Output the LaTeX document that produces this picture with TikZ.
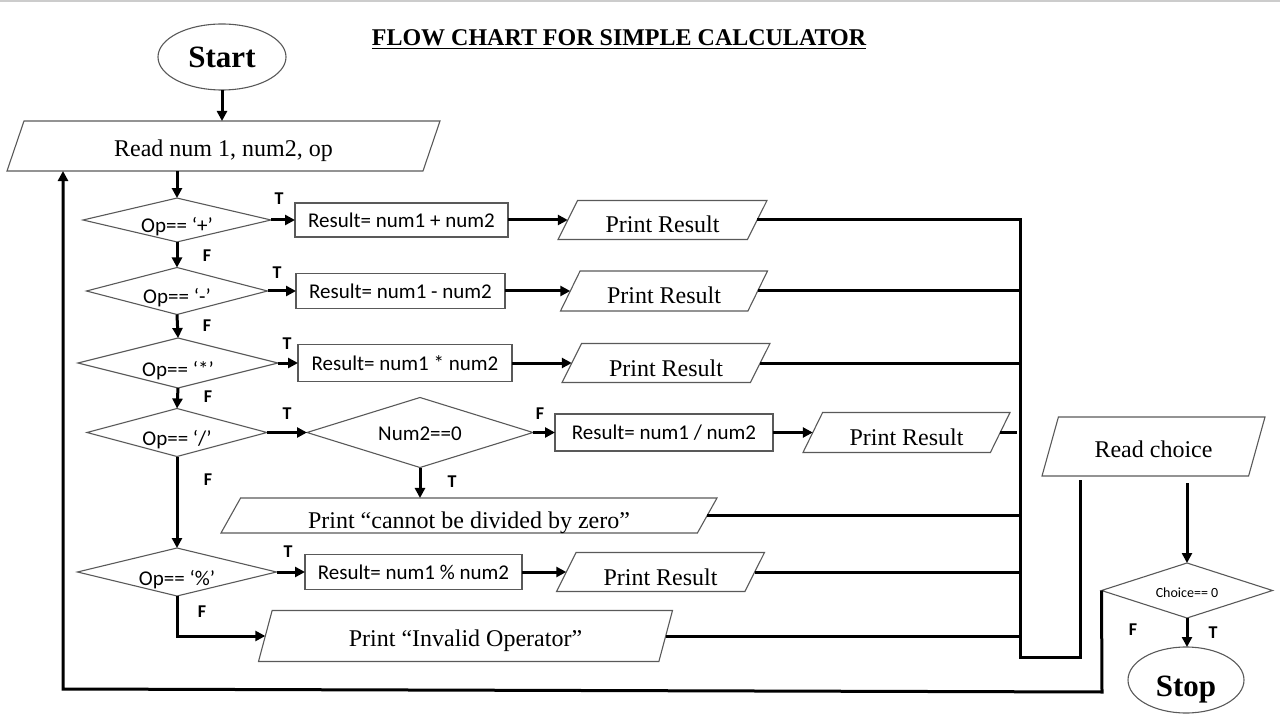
\documentclass[tikz,border=0pt]{standalone}
\usepackage{fontspec}
\setmainfont{Liberation Serif}
\newfontfamily\calib{Carlito}
\usetikzlibrary{shapes.geometric,arrows.meta,calc}
\begin{document}
\begin{tikzpicture}[x=1pt,y=-1pt,
  outl/.style={draw=black!65, line width=1.1pt},
  conn/.style={line width=3pt, black},
  arr/.style={conn, -{Triangle[length=10pt,width=10pt]}},
  para/.style={trapezium, trapezium left angle=#1, trapezium right angle=180-#1,
    trapezium stretches body, outl, inner sep=0pt, outer sep=0pt,
    font=\fontsize{24}{28}\selectfont},
  para/.default=53,
  lowtxt/.style={text height=26pt, text depth=0pt},
  midtxt/.style={text height=21pt, text depth=0pt},
  dia/.style={diamond, outl, inner sep=0pt, outer sep=0pt, shape aspect=4,
    font=\calib\fontsize{21}{24}\selectfont, text height=26pt, text depth=0pt},
  procbox/.style={rectangle, outl, inner sep=0pt, outer sep=0pt,
    font=\calib\fontsize{21}{24}\selectfont},
  term/.style={ellipse, outl, inner sep=0pt, outer sep=0pt,
    font=\bfseries\fontsize{31}{34}\selectfont},
  lab/.style={inner sep=0pt, font=\calib\bfseries\fontsize{18}{20}\selectfont}
]
\useasboundingbox (0,0) rectangle (1280,719);
\draw[gray!40, line width=2pt] (0,1) -- (1280,1);

% title
\node[anchor=base, inner sep=0pt] (title) at (619,46)
  {\fontsize{24}{28}\selectfont\bfseries\underline{FLOW CHART FOR SIMPLE CALCULATOR}};

% terminals
\node[term, minimum width=128pt, minimum height=66pt] (start) at (222,57) {Start};
\node[term, minimum width=116pt, minimum height=66pt, text height=32pt, text depth=0pt] (stop) at (1186,680) {Stop};

% inputs
\node[para=51, midtxt, minimum width=433pt, minimum height=50pt] (read) at (223.5,146) {Read num 1, num2, op};
\node[para=52, midtxt, minimum width=223pt, minimum height=59pt] (rc) at (1153.5,446.5) {Read choice};

% decisions
\node[dia, minimum width=188pt, minimum height=43pt] (d1) at (177,220) {Op== ‘+’};
\node[dia, minimum width=181pt, minimum height=47pt] (d2) at (177,291) {Op== ‘-’};
\node[dia, minimum width=200pt, minimum height=50pt] (d3) at (178,363) {Op== ‘*’};
\node[dia, minimum width=180pt, minimum height=48pt] (d4) at (177,432.5) {Op== ‘/’};
\node[dia, minimum width=199pt, minimum height=48pt] (d5) at (177,572) {Op== ‘\%’};
\node[dia, shape aspect=3.2, minimum width=226pt, minimum height=70pt, text height=16pt] (n0) at (420,432.5) {Num2==0};
\node[dia, shape aspect=3, minimum width=171pt, minimum height=55pt,
  font=\calib\fontsize{14}{16}\selectfont, text height=13pt] (ch) at (1187,590.5) {Choice== 0};

% process boxes
\node[procbox, minimum width=213pt, minimum height=34pt] (b1) at (401.5,220) {Result= num1 + num2};
\node[procbox, minimum width=209pt, minimum height=35pt] (b2) at (400.5,291) {Result= num1 - num2};
\node[procbox, minimum width=214pt, minimum height=37pt] (b3) at (405,363) {Result= num1 * num2};
\node[procbox, minimum width=218pt, minimum height=37pt] (b4) at (664,432.5) {Result= num1 / num2};
\node[procbox, minimum width=217pt, minimum height=35pt] (b5) at (413.5,572) {Result= num1 \% num2};

% outputs
\node[para, lowtxt, minimum width=209pt, minimum height=39pt] (p1) at (662.5,220) {Print Result};
\node[para, lowtxt, minimum width=207pt, minimum height=40pt] (p2) at (664,291) {Print Result};
\node[para, lowtxt, minimum width=208pt, minimum height=39pt] (p3) at (666,363) {Print Result};
\node[para, lowtxt, minimum width=207pt, minimum height=40pt] (p4) at (906.5,432.5) {Print Result};
\node[para, lowtxt, minimum width=208pt, minimum height=39pt] (p5) at (660.5,572) {Print Result};
\node[para, lowtxt, minimum width=496pt, minimum height=35pt] (zero) at (469,515.5) {Print “cannot be divided by zero”};
\node[para=57, midtxt, minimum width=414pt, minimum height=51pt] (inv) at (465.5,636) {Print “Invalid Operator”};

% bus coordinates
\coordinate (bb) at (1020,657);
\coordinate (bc) at (1080,657);
\coordinate (bd) at (1080,480);
\coordinate (l1) at (1102,692);
\coordinate (l2) at (63,689);

% main flow
\draw[arr] (start.south) -- (start.south |- read.north);
\draw[arr] (d1.north |- read.south) -- (d1.north);
\draw[arr] (d1.south) -- (d2.north);
\draw[arr] (d2.south) -- (d3.north);
\draw[arr] (d3.south) -- (d4.north);
\draw[arr] (d4.south) -- (d5.north);
\draw[arr] (d5.south) |- (inv.left side);

\draw[arr] (d1.east) -- (b1.west);
\draw[arr] (d2.east) -- (b2.west);
\draw[arr] (d3.east) -- (b3.west);
\draw[arr] (d4.east) -- (n0.west);
\draw[arr] (n0.east) -- (b4.west);
\draw[arr] (d5.east) -- (b5.west);
\draw[arr] (n0.south) -- (n0.south |- zero.north);

\draw[arr] (b1.east) -- (p1.left side);
\draw[arr] (b2.east) -- (p2.left side);
\draw[arr] (b3.east) -- (p3.left side);
\draw[arr] (b4.east) -- (p4.left side);
\draw[arr] (b5.east) -- (p5.left side);

% collecting bus
\draw[conn] (p1.right side) -- (p1.right side -| bb) -- (bb) -- (bc) -- (bd);
\draw[conn] (p2.right side) -- (p2.right side -| bb);
\draw[conn] (p3.right side) -- (p3.right side -| bb);
\draw[conn] (p4.right side) -- ([xshift=-3pt]p4.right side -| bb);
\draw[conn] (zero.right side) -- (zero.right side -| bb);
\draw[conn] (p5.right side) -- (p5.right side -| bb);
\draw[conn] (inv.right side) -- (inv.right side -| bb);

% choice
\draw[arr] ([yshift=-7pt]ch.north |- rc.south) -- (ch.north);
\draw[arr] (ch.south) -- (ch.south |- stop.north);
\draw[arr] (ch.west) -- (l1) -- (l2) -- (l2 |- read.south);

% labels
\node[lab] (t1) at (279,199) {T};
\node[lab] (f1) at (207,256) {F};
\node[lab] (t2) at (277,273) {T};
\node[lab] (f2) at (207,326) {F};
\node[lab] (t3) at (287,344) {T};
\node[lab] (f3) at (208,397) {F};
\node[lab] (t4) at (287,414) {T};
\node[lab] (f0) at (540,414) {F};
\node[lab] (f4) at (208,480) {F};
\node[lab] (t0) at (452,482) {T};
\node[lab] (t5) at (288,552) {T};
\node[lab] (f5) at (202,612) {F};
\node[lab] (fc) at (1133,630) {F};
\node[lab] (tc) at (1213,633) {T};
\end{tikzpicture}
\end{document}
